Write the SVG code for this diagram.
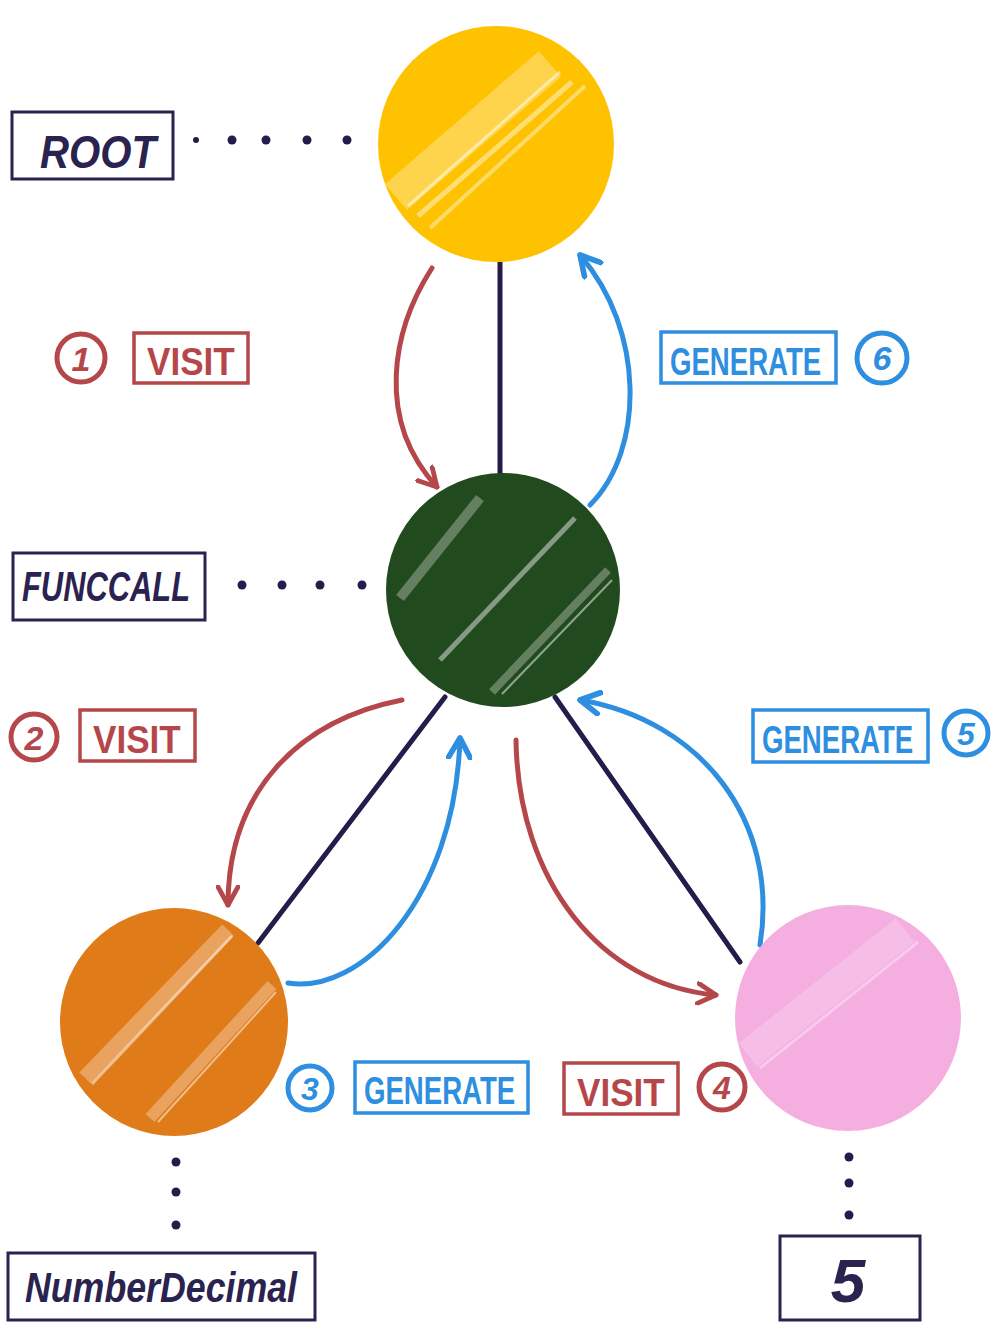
<svg xmlns="http://www.w3.org/2000/svg" width="1000" height="1333" viewBox="0 0 1000 1333">
<style>
.edge{stroke:#241c4a;stroke-width:5;stroke-linecap:round;fill:none}
.red{stroke:#b5474b;stroke-width:5;fill:none;stroke-linecap:round}
.blue{stroke:#2e8fe0;stroke-width:5;fill:none;stroke-linecap:round}
.lbl{fill:#fff;stroke:#2a2350;stroke-width:3}
.lt{font-family:"Liberation Sans",Arial,sans-serif;font-style:italic;font-weight:bold;fill:#2a2350}
.rbox{fill:#fff;stroke:#b5474b;stroke-width:3.5}
.bbox{fill:#fff;stroke:#2e8fe0;stroke-width:3.5}
.rt{font-family:"Liberation Sans",Arial,sans-serif;fill:#b5474b;font-weight:bold}
.bt{font-family:"Liberation Sans",Arial,sans-serif;fill:#2e8fe0;font-weight:bold}
.rc{fill:none;stroke:#b5474b;stroke-width:5}
.bc{fill:none;stroke:#2e8fe0;stroke-width:5}
.dot{fill:#241c4a}
.hl{stroke:#fff;fill:none;stroke-linecap:butt}
</style>
<defs>
<marker id="ar" viewBox="0 0 12 12" refX="10" refY="6" markerWidth="24" markerHeight="24" markerUnits="userSpaceOnUse" orient="auto">
<path d="M1,1 L10,6 L1,11" fill="none" stroke="#b5474b" stroke-width="2.4" stroke-linecap="round" stroke-linejoin="round"/>
</marker>
<marker id="ab" viewBox="0 0 12 12" refX="10" refY="6" markerWidth="26" markerHeight="26" markerUnits="userSpaceOnUse" orient="auto">
<path d="M1,1 L10,6 L1,11" fill="none" stroke="#2e8fe0" stroke-width="2.6" stroke-linecap="round" stroke-linejoin="round"/>
</marker>
<clipPath id="cy"><circle cx="496" cy="144" r="118"/></clipPath>
<clipPath id="cg"><circle cx="503" cy="590" r="117"/></clipPath>
<clipPath id="co"><circle cx="174" cy="1022" r="114"/></clipPath>
<clipPath id="cp"><circle cx="848" cy="1018" r="113"/></clipPath>
</defs>

<g id="connectors">
<line class="edge" x1="500" y1="262" x2="500" y2="476"/>
<line class="edge" x1="445" y1="697" x2="258" y2="943"/>
<line class="edge" x1="555" y1="697" x2="740" y2="962"/>
<path class="red" d="M432,268 C392,330 375,420 437,487" marker-end="url(#ar)"/>
<path class="blue" d="M590,505 C645,450 645,330 580,255" stroke-width="6" marker-end="url(#ab)"/>
<path class="red" d="M402,700 C300,720 228,790 228,905" marker-end="url(#ar)"/>
<path class="blue" d="M288,983 C360,995 455,900 460,738" marker-end="url(#ab)"/>
<path class="red" d="M516,740 C518,880 600,985 716,995" marker-end="url(#ar)"/>
<path class="blue" d="M760,945 C780,820 700,720 580,700" marker-end="url(#ab)"/>
</g>

<g id="node-root">
<circle cx="496" cy="144" r="118" fill="#fec200"/>
<g clip-path="url(#cy)">
<line class="hl" x1="396" y1="197" x2="550" y2="64" stroke-width="34" opacity="0.3"/>
<line class="hl" x1="408" y1="206" x2="560" y2="72" stroke-width="3" opacity="0.5"/>
<line class="hl" x1="418" y1="216" x2="572" y2="82" stroke-width="5" opacity="0.45"/>
<line class="hl" x1="430" y1="228" x2="585" y2="86" stroke-width="4" opacity="0.4"/>
</g>
</g>
<g id="node-funccall">
<circle cx="503" cy="590" r="117" fill="#214a1e"/>
<g clip-path="url(#cg)">
<line class="hl" x1="400" y1="598" x2="480" y2="498" stroke-width="10" opacity="0.3"/>
<line class="hl" x1="440" y1="660" x2="575" y2="518" stroke-width="5" opacity="0.45"/>
<line class="hl" x1="492" y1="692" x2="608" y2="570" stroke-width="8" opacity="0.3"/>
<line class="hl" x1="502" y1="694" x2="612" y2="580" stroke-width="2" opacity="0.5"/>
</g>
</g>
<g id="node-numberdecimal">
<circle cx="174" cy="1022" r="114" fill="#e07b1a"/>
<g clip-path="url(#co)">
<line class="hl" x1="85" y1="1078" x2="228" y2="930" stroke-width="16" opacity="0.3"/>
<line class="hl" x1="92" y1="1084" x2="232" y2="936" stroke-width="3" opacity="0.5"/>
<line class="hl" x1="150" y1="1118" x2="272" y2="985" stroke-width="12" opacity="0.3"/>
<line class="hl" x1="158" y1="1122" x2="276" y2="992" stroke-width="2" opacity="0.5"/>
</g>
</g>
<g id="node-five">
<circle cx="848" cy="1018" r="113" fill="#f4aee0"/>
<g clip-path="url(#cp)">
<line class="hl" x1="748" y1="1055" x2="905" y2="930" stroke-width="30" opacity="0.2"/>
<line class="hl" x1="760" y1="1068" x2="918" y2="942" stroke-width="3" opacity="0.35"/>
</g>
</g>

<g id="label-root">
<rect class="lbl" x="12" y="112" width="161" height="67"/>
<text class="lt" x="40" y="168" font-size="46" textLength="116" lengthAdjust="spacingAndGlyphs">ROOT</text>
<circle class="dot" cx="196" cy="140" r="3"/>
<circle class="dot" cx="232" cy="140" r="4.5"/>
<circle class="dot" cx="266" cy="140" r="4.5"/>
<circle class="dot" cx="307" cy="140" r="4.5"/>
<circle class="dot" cx="347" cy="140" r="4.5"/>
</g>
<g id="label-funccall">
<rect class="lbl" x="13" y="553" width="192" height="67"/>
<text class="lt" x="22" y="601" font-size="42" textLength="168" lengthAdjust="spacingAndGlyphs">FUNCCALL</text>
<circle class="dot" cx="242" cy="585" r="4.5"/>
<circle class="dot" cx="282" cy="585" r="4.5"/>
<circle class="dot" cx="320" cy="585" r="4.5"/>
<circle class="dot" cx="362" cy="585" r="4.5"/>
</g>
<g id="label-numberdecimal">
<rect class="lbl" x="8" y="1253" width="307" height="67"/>
<text class="lt" x="25" y="1302" font-size="42" textLength="272" lengthAdjust="spacingAndGlyphs">NumberDecimal</text>
<circle class="dot" cx="176" cy="1162" r="4.5"/>
<circle class="dot" cx="176" cy="1192" r="4.5"/>
<circle class="dot" cx="176" cy="1225" r="4.5"/>
</g>
<g id="label-five">
<rect class="lbl" x="780" y="1236" width="140" height="84"/>
<text class="lt" x="848" y="1302" font-size="62" text-anchor="middle">5</text>
<circle class="dot" cx="849" cy="1157" r="4.5"/>
<circle class="dot" cx="849" cy="1183" r="4.5"/>
<circle class="dot" cx="849" cy="1215" r="4.5"/>
</g>

<g id="step-1">
<circle class="rc" cx="81" cy="358" r="24"/>
<text class="rt" x="81" y="371" font-size="34" font-style="italic" text-anchor="middle">1</text>
<rect class="rbox" x="134" y="333" width="114" height="50"/>
<text class="rt" transform="translate(147,375) scale(1.17,1.3)" font-size="30">VISIT</text>
</g>
<g id="step-2">
<circle class="rc" cx="34" cy="737" r="23"/>
<text class="rt" x="34" y="750" font-size="34" font-style="italic" text-anchor="middle">2</text>
<rect class="rbox" x="80" y="710" width="115" height="51"/>
<text class="rt" transform="translate(93,753) scale(1.17,1.3)" font-size="30">VISIT</text>
</g>
<g id="step-3">
<circle class="bc" cx="310" cy="1088" r="22"/>
<text class="bt" x="310" y="1100" font-size="32" font-style="italic" text-anchor="middle">3</text>
<rect class="bbox" x="355" y="1062" width="173" height="51"/>
<text class="bt" transform="translate(364,1104) scale(0.92,1.3)" font-size="30">GENERATE</text>
</g>
<g id="step-4">
<rect class="rbox" x="564" y="1063" width="114" height="51"/>
<text class="rt" transform="translate(577,1106) scale(1.17,1.3)" font-size="30">VISIT</text>
<circle class="rc" cx="722" cy="1087" r="23"/>
<text class="rt" x="722" y="1099" font-size="32" font-style="italic" text-anchor="middle">4</text>
</g>
<g id="step-5">
<rect class="bbox" x="753" y="710" width="175" height="52"/>
<text class="bt" transform="translate(762,753) scale(0.92,1.3)" font-size="30">GENERATE</text>
<circle class="bc" cx="966" cy="733" r="22"/>
<text class="bt" x="966" y="745" font-size="32" font-style="italic" text-anchor="middle">5</text>
</g>
<g id="step-6">
<rect class="bbox" x="661" y="332" width="175" height="51"/>
<text class="bt" transform="translate(670,375) scale(0.92,1.3)" font-size="30">GENERATE</text>
<circle class="bc" cx="882" cy="358" r="25"/>
<text class="bt" x="882" y="370" font-size="34" font-style="italic" text-anchor="middle">6</text>
</g>
</svg>
